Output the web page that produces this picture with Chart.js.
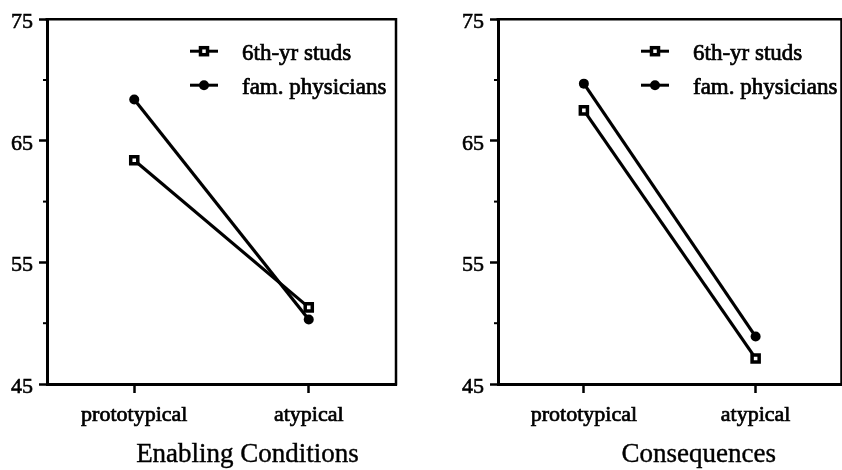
<!DOCTYPE html>
<html>
<head>
<meta charset="utf-8">
<script src="https://cdn.jsdelivr.net/npm/chart.js@4/dist/chart.umd.min.js"></script>
<style>
html,body{margin:0;padding:0;background:#fff;overflow:hidden;width:842px;height:470px;}
.panel{position:absolute;top:0;height:470px;}
#p1{left:0;width:420px;}
#p2{left:420px;width:430px;}
</style>
</head>
<body>
<div class="panel" id="p1"><canvas id="c1" width="420" height="470"></canvas></div>
<div class="panel" id="p2"><canvas id="c2" width="430" height="470"></canvas></div>
<script>
const categories = ['prototypical', 'atypical'];
const seriesNames = ['6th-yr studs', 'fam. physicians'];
const enablingStuds = [63.4, 51.3];
const enablingPhys = [68.4, 50.3];
const consequencesStuds = [67.5, 47.1];
const consequencesPhys = [69.7, 48.9];
const yMajorTicks = [45, 55, 65, 75];
const yMin = 45, yMax = 75, yStep = 5;

const FONT = "'Liberation Serif', 'Times New Roman', serif";
Chart.defaults.font.family = FONT;
Chart.defaults.color = '#000';

function drawMarker(ctx, style, x, y) {
  ctx.save();
  ctx.strokeStyle = '#000';
  ctx.fillStyle = '#000';
  if (style === 'rect') {
    ctx.fillStyle = '#fff';
    ctx.lineWidth = 3.5;
    ctx.fillRect(x - 3.5, y - 3.5, 7, 7);
    ctx.strokeRect(x - 3.5, y - 3.5, 7, 7);
  } else {
    ctx.beginPath();
    ctx.arc(x, y, 5, 0, Math.PI * 2);
    ctx.fill();
  }
  ctx.restore();
}

const framePlugin = {
  id: 'frame',
  afterDraw(chart, args, opts) {
    const ctx = chart.ctx;
    const a = chart.chartArea;
    ctx.save();
    ctx.strokeStyle = '#000';
    // top and right frame
    ctx.lineWidth = 2.5;
    ctx.beginPath();
    ctx.moveTo(a.left - 1.5, a.top);
    ctx.lineTo(a.right, a.top);
    ctx.lineTo(a.right, a.bottom + 1.5);
    ctx.stroke();
    // minor y ticks
    const ys = chart.scales.y;
    ctx.lineWidth = 2;
    ys.ticks.forEach(t => {
      if (!yMajorTicks.includes(t.value)) {
        const py = ys.getPixelForValue(t.value);
        ctx.beginPath();
        ctx.moveTo(a.left - 4, py);
        ctx.lineTo(a.left, py);
        ctx.stroke();
      }
    });
    // legend inside plot area
    chart.data.datasets.forEach((ds, i) => {
      const ry = a.top + 32 + i * 34;
      const lx = a.left + 143;
      ctx.strokeStyle = '#000';
      ctx.lineWidth = 3;
      ctx.beginPath();
      ctx.moveTo(lx, ry);
      ctx.lineTo(lx + 28, ry);
      ctx.stroke();
      drawMarker(ctx, ds.pointStyle, lx + 14, ry);
      ctx.fillStyle = '#000';
      ctx.font = "23px " + FONT;
      ctx.textAlign = 'left';
      ctx.textBaseline = 'middle';
      ctx.lineWidth = 0.7;
      ctx.fillText(ds.label, a.left + 195, ry + 3);
      ctx.strokeText(ds.label, a.left + 195, ry + 3);
    });
    // panel title below axis
    ctx.font = "27px " + FONT;
    ctx.textAlign = 'center';
    ctx.textBaseline = 'middle';
    ctx.fillStyle = '#000';
    ctx.lineWidth = 0.4;
    const tx = (a.left + a.right) / 2 + opts.shift, ty = a.bottom + 71;
    ctx.fillText(opts.title, tx, ty);
    ctx.strokeText(opts.title, tx, ty);
    ctx.restore();
  }
};

function makeChart(id, studs, phys, title, leftW, rightPad, shift) {
  return new Chart(document.getElementById(id), {
    type: 'line',
    data: {
      labels: categories,
      datasets: [
        { label: seriesNames[0], data: studs, borderColor: '#000', borderWidth: 3.2,
          pointStyle: 'rect', pointRadius: 5, pointBackgroundColor: '#fff',
          pointBorderColor: '#000', pointBorderWidth: 3.5, tension: 0 },
        { label: seriesNames[1], data: phys, borderColor: '#000', borderWidth: 3.2,
          pointStyle: 'circle', pointRadius: 5, pointBackgroundColor: '#000',
          pointBorderColor: '#000', pointBorderWidth: 0, tension: 0 }
      ]
    },
    options: {
      responsive: false,
      devicePixelRatio: 1,
      animation: false,
      layout: { padding: { top: 18, right: rightPad, left: 0, bottom: 0 } },
      plugins: { legend: { display: false }, tooltip: { enabled: false },
        frame: { title: title, shift: shift } },
      scales: {
        x: {
          type: 'category',
          offset: true,
          grid: { display: true, drawOnChartArea: false, offset: false,
                  tickLength: 9, tickWidth: 2.5, tickColor: '#000' },
          border: { display: true, color: '#000', width: 3 },
          ticks: { font: { size: 22 }, padding: 9, color: '#000', maxRotation: 0,
                   textStrokeColor: '#000', textStrokeWidth: 0.7 },
          afterFit(s) { s.height = 86; }
        },
        y: {
          min: yMin, max: yMax,
          grid: { display: true, drawOnChartArea: false, tickLength: 8, tickWidth: 2.5,
                  tickColor: ctx => yMajorTicks.includes(ctx.tick.value) ? '#000' : 'rgba(0,0,0,0)' },
          border: { display: true, color: '#000', width: 3 },
          ticks: { stepSize: yStep, font: { size: 22 }, padding: 6, color: '#000',
                   labelOffset: 3, textStrokeColor: '#000', textStrokeWidth: 0.6,
                   callback: v => yMajorTicks.includes(v) ? String(v) : '' },
          afterFit(s) { s.width = leftW; }
        }
      }
    },
    plugins: [framePlugin]
  });
}

makeChart('c1', enablingStuds, enablingPhys, 'Enabling Conditions', 47, 24, 26);
makeChart('c2', consequencesStuds, consequencesPhys, 'Consequences', 78, 6, 29);
</script>
</body>
</html>
